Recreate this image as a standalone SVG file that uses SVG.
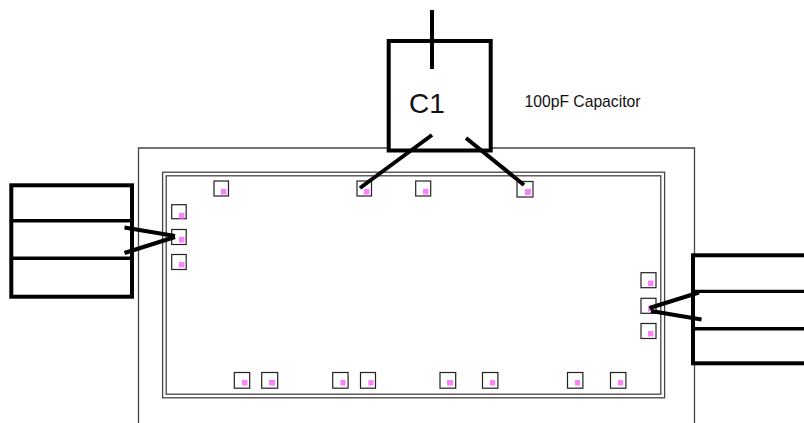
<svg xmlns="http://www.w3.org/2000/svg" width="804" height="423" viewBox="0 0 804 423">
<style>
.frame{fill:none;stroke:#444;stroke-width:1.3}
.box{fill:#fff;stroke:#000;stroke-width:4}
.div{stroke:#000;stroke-width:3.4;fill:none}
.pad{fill:#fff;stroke:#222;stroke-width:1.2}
.dot{fill:#ff80ff}
.wire{stroke:#000;stroke-width:4;fill:none}
text{font-family:"Liberation Sans",Arial,sans-serif;fill:#111}
</style>
<rect width="804" height="423" fill="#fff"/>
<g id="die">
<path class="frame" d="M138.5 423V148H694.5V423"/>
<rect class="frame" x="162.6" y="172.2" width="502" height="225.6"/>
<rect class="frame" x="166.2" y="175.8" width="494.6" height="218.4"/>
</g>
<g id="pads">
<g id="pad-t1"><rect class="pad" x="214" y="181" width="14.5" height="15"/><rect class="dot" x="221" y="189" width="5.5" height="5.5"/></g>
<g id="pad-t2"><rect class="pad" x="357" y="181" width="14.5" height="15"/><rect class="dot" x="364" y="189" width="5.5" height="5.5"/></g>
<g id="pad-t3"><rect class="pad" x="415.7" y="181" width="15" height="15"/><rect class="dot" x="423" y="189" width="5.5" height="5.5"/></g>
<g id="pad-t4"><rect class="pad" x="517" y="181.5" width="16" height="15.5"/><rect class="dot" x="525" y="189" width="6" height="6"/></g>
<g id="pad-l1"><rect class="pad" x="171.7" y="204.7" width="14.5" height="14"/><rect class="dot" x="179" y="213" width="5.5" height="5.5"/></g>
<g id="pad-l2"><rect class="pad" x="171.7" y="229.5" width="14.5" height="15"/><rect class="dot" x="179" y="237" width="5.5" height="5.5"/></g>
<g id="pad-l3"><rect class="pad" x="171.7" y="254.5" width="14.5" height="15"/><rect class="dot" x="179" y="262" width="5.5" height="5.5"/></g>
<g id="pad-r1"><rect class="pad" x="641" y="272.7" width="15" height="15"/><rect class="dot" x="648" y="280.5" width="5.5" height="5.5"/></g>
<g id="pad-r2"><rect class="pad" x="641" y="298.3" width="15" height="15"/><rect class="dot" x="648" y="306" width="5.5" height="5.5"/></g>
<g id="pad-r3"><rect class="pad" x="641" y="323.5" width="15" height="15"/><rect class="dot" x="648" y="331" width="5.5" height="5.5"/></g>
<g id="pad-b1"><rect class="pad" x="234.3" y="372.5" width="15.4" height="15.7"/><rect class="dot" x="242" y="380" width="5.5" height="5.5"/></g>
<g id="pad-b2"><rect class="pad" x="261.7" y="372.5" width="16" height="15.7"/><rect class="dot" x="269" y="380" width="6" height="5.5"/></g>
<g id="pad-b3"><rect class="pad" x="332.7" y="372.5" width="15.4" height="15.7"/><rect class="dot" x="340.5" y="380" width="5" height="5.5"/></g>
<g id="pad-b4"><rect class="pad" x="360.5" y="372.5" width="15" height="15.7"/><rect class="dot" x="368.5" y="380" width="5" height="5.5"/></g>
<g id="pad-b5"><rect class="pad" x="440" y="372.5" width="15.7" height="15.7"/><rect class="dot" x="447" y="380" width="6" height="5.5"/></g>
<g id="pad-b6"><rect class="pad" x="482.5" y="372.5" width="15.4" height="15.7"/><rect class="dot" x="490" y="380" width="5" height="5.5"/></g>
<g id="pad-b7"><rect class="pad" x="567.5" y="372.5" width="15.4" height="15.7"/><rect class="dot" x="575" y="380" width="5" height="5.5"/></g>
<g id="pad-b8"><rect class="pad" x="610.5" y="372.5" width="15.4" height="15.7"/><rect class="dot" x="618" y="380" width="5" height="5.5"/></g>
</g>
<g id="capacitor">
<rect class="box" x="388.7" y="41" width="102" height="109.5"/>
<text x="409" y="113" font-size="28">C1</text>
</g>
<g id="left-block">
<rect class="box" x="11.3" y="185.3" width="120.7" height="111.4"/>
<path class="div" d="M11 220.8H132M11 258.3H132"/>
</g>
<g id="right-block">
<rect class="box" x="693" y="255.3" width="115" height="108"/>
<path class="div" d="M693 291.4H804M693 328.7H804"/>
</g>
<text id="cap-label" x="524.5" y="107.3" font-size="15.7">100pF Capacitor</text>
<g id="connectors">
<path class="wire" d="M432 10V69"/>
<path class="wire" d="M432 135L360 188"/>
<path class="wire" d="M466 138L524 185"/>
<path class="wire" d="M124.5 227.5L175 236"/>
<path class="wire" d="M124.5 253L175 237"/>
<path class="wire" d="M649.5 308L699 292.5"/>
<path class="wire" d="M651 311L701.5 319.5"/>
</g>
</svg>
